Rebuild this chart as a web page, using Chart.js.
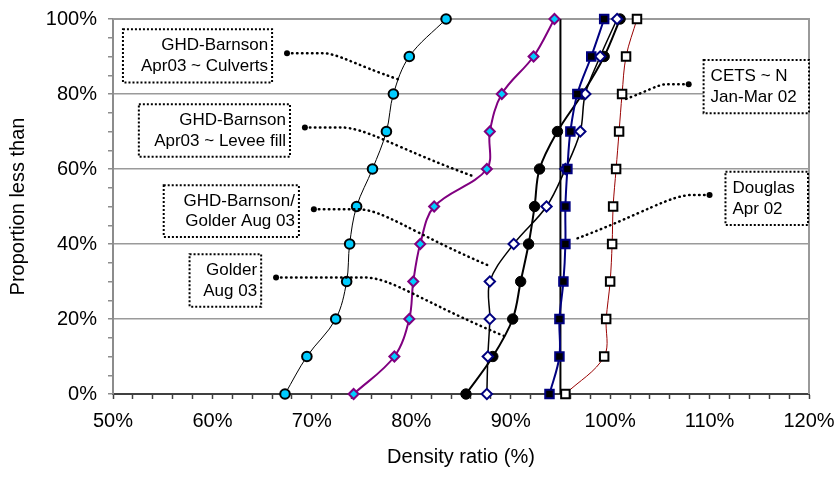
<!DOCTYPE html>
<html>
<head>
<meta charset="utf-8">
<title>Density ratio</title>
<script src="https://cdn.jsdelivr.net/npm/chart.js@4.4.1/dist/chart.umd.min.js"></script>
<style>
  html, body { margin: 0; padding: 0; background: #fff; }
  #wrap { width: 837px; height: 479px; }
</style>
</head>
<body>
<div id="wrap"><canvas id="densityChart" width="837" height="479"></canvas></div>
<script>
// Proportion less than (%) - same levels for every series
const proportion = [0, 10, 20, 30, 40, 50, 60, 70, 80, 90, 100];

// Density ratio (%) for each test set
const culverts = [67.3, 69.5, 72.4, 73.5, 73.8, 74.5, 76.1, 77.5, 78.2, 79.8, 83.5];
const leveeFill = [74.2, 78.3, 79.8, 80.2, 80.9, 82.3, 87.6, 87.9, 89.1, 92.3, 94.4];
const golderAug03 = [85.5, 88.2, 90.2, 91.0, 91.8, 92.4, 92.9, 94.7, 97.2, 99.4, 101.0];
const ghdGolderAug03 = [87.6, 87.7, 87.9, 87.9, 90.3, 93.6, 95.5, 97.0, 97.5, 99.0, 100.7];
const douglasApr02 = [93.9, 94.9, 94.9, 95.3, 95.5, 95.5, 95.7, 96.0, 96.7, 98.1, 99.4];
const cetsJanMar02 = [95.5, 99.4, 99.6, 100.0, 100.2, 100.3, 100.6, 100.9, 101.2, 101.6, 102.7];

// 95% specification line
const specLimit = 95;

// axis ranges and labelled ticks
const xRange = [50, 120];
const yRange = [0, 100];
const xLabelEvery = 10;
const yLabelEvery = 20;

// callout boxes: text, box corners and leader path, all in axis units
const callouts = [
  { text: ['GHD-Barnson', 'Apr03 ~ Culverts'], box: [51.0, 97.3, 66.0, 83.1], align: 'right',
    path: [[67.5, 90.9], [71.0, 90.9], [78.7, 83.9]] },
  { text: ['GHD-Barnson', 'Apr03 ~ Levee fill'], box: [52.6, 77.3, 67.8, 63.3], align: 'right',
    path: [[69.3, 71.1], [72.8, 71.1], [86.2, 58.1]] },
  { text: ['GHD-Barnson/', 'Golder Aug 03'], box: [55.1, 55.7, 68.7, 41.9], align: 'right',
    path: [[70.2, 49.3], [74.5, 49.3], [87.9, 34.1]] },
  { text: ['Golder', 'Aug 03'], box: [57.7, 37.3, 64.9, 23.3], align: 'right',
    path: [[66.4, 31.1], [75.2, 31.1], [89.3, 15.5]] },
  { text: ['CETS ~ N', 'Jan-Mar 02'], box: [109.4, 89.1, 120, 74.9], align: 'left',
    path: [[107.9, 82.6], [105.7, 82.6], [101.3, 78.4]] },
  { text: ['Douglas', 'Apr 02'], box: [111.6, 59.3, 119.9, 45.1], align: 'left',
    path: [[110.0, 53.1], [108.4, 53.1], [96.3, 41.1]] }
];

const FONT = '"Liberation Sans", Arial, sans-serif';

function series(values, style) {
  return Object.assign({
    data: values.map((v, i) => ({ x: v, y: proportion[i] })),
    showLine: true,
    tension: 0.35,
    clip: false
  }, style);
}

// grey frame on the top and right of the plot
const plotFrame = {
  id: 'plotFrame',
  beforeDatasetsDraw(chart) {
    const { ctx, chartArea: a } = chart;
    ctx.save();
    ctx.strokeStyle = '#9a9a9a';
    ctx.lineWidth = 2;
    ctx.beginPath();
    ctx.moveTo(a.left, a.top);
    ctx.lineTo(a.right, a.top);
    ctx.lineTo(a.right, a.bottom);
    ctx.stroke();
    ctx.restore();
  }
};

// dotted callout boxes with dotted leaders
const calloutPlugin = {
  id: 'callouts',
  afterDatasetsDraw(chart) {
    const { ctx } = chart;
    const sx = chart.scales.x, sy = chart.scales.y;
    const px = p => [sx.getPixelForValue(p[0]), sy.getPixelForValue(p[1])];
    ctx.save();
    callouts.forEach(c => {
      // leader
      const [d, k, e] = c.path.map(px);
      const dx = e[0] - k[0], dy = e[1] - k[1];
      ctx.setLineDash([0.5, 4.5]);
      ctx.lineCap = 'round';
      ctx.lineWidth = 2.5;
      ctx.strokeStyle = '#000';
      ctx.beginPath();
      ctx.moveTo(d[0], d[1]);
      ctx.lineTo(k[0], k[1]);
      ctx.bezierCurveTo(k[0] + dx * 0.2, k[1], k[0] + dx * 0.4, k[1] + dy * 0.4, e[0], e[1]);
      ctx.stroke();
      ctx.setLineDash([]);
      ctx.fillStyle = '#000';
      ctx.beginPath();
      ctx.arc(d[0], d[1], 3, 0, Math.PI * 2);
      ctx.fill();

      // box
      const [x1, y1] = px([c.box[0], c.box[1]]);
      const [x2, y2] = px([c.box[2], c.box[3]]);
      ctx.fillStyle = '#fff';
      ctx.fillRect(x1, y1, x2 - x1, y2 - y1);
      ctx.setLineDash([2, 2]);
      ctx.lineCap = 'butt';
      ctx.lineWidth = 2;
      ctx.strokeRect(x1, y1, x2 - x1, y2 - y1);
      ctx.setLineDash([]);

      // text
      ctx.fillStyle = '#000';
      ctx.font = '17px ' + FONT;
      ctx.textBaseline = 'middle';
      ctx.textAlign = c.align;
      const tx = c.align === 'right' ? x2 - 4 : x1 + 7;
      const h = y2 - y1;
      ctx.fillText(c.text[0], tx, y1 + h * 0.31);
      ctx.fillText(c.text[1], tx, y1 + h * 0.70);
    });
    ctx.restore();
  }
};

const ctx = document.getElementById('densityChart').getContext('2d');

new Chart(ctx, {
  type: 'scatter',
  data: {
    datasets: [
      series(douglasApr02, {
        label: 'Douglas Apr 02',
        borderColor: '#000080', borderWidth: 2,
        pointStyle: 'rect', pointRadius: 6,
        pointBackgroundColor: '#000', pointBorderColor: '#000080', pointBorderWidth: 2
      }),
      series(ghdGolderAug03, {
        label: 'GHD-Barnson/Golder Aug 03',
        borderColor: '#000', borderWidth: 1.5,
        pointStyle: 'rectRot', pointRadius: 5.2,
        pointBackgroundColor: '#fff', pointBorderColor: '#000080', pointBorderWidth: 2
      }),
      series(golderAug03, {
        label: 'Golder Aug 03',
        borderColor: '#000', borderWidth: 2,
        pointStyle: 'circle', pointRadius: 5.2,
        pointBackgroundColor: '#000', pointBorderColor: '#000', pointBorderWidth: 1
      }),
      series(cetsJanMar02, {
        label: 'CETS ~ N Jan-Mar 02',
        borderColor: '#990000', borderWidth: 1,
        pointStyle: 'rect', pointRadius: 6,
        pointBackgroundColor: '#fff', pointBorderColor: '#000', pointBorderWidth: 2
      }),
      series(leveeFill, {
        label: 'GHD-Barnson Apr03 ~ Levee fill',
        borderColor: '#800080', borderWidth: 2,
        pointStyle: 'rectRot', pointRadius: 5,
        pointBackgroundColor: '#00ccff', pointBorderColor: '#800080', pointBorderWidth: 2
      }),
      series(culverts, {
        label: 'GHD-Barnson Apr03 ~ Culverts',
        borderColor: '#000', borderWidth: 1,
        pointStyle: 'circle', pointRadius: 4.8,
        pointBackgroundColor: '#00ccff', pointBorderColor: '#000', pointBorderWidth: 2
      }),
      {
        label: 'Spec',
        data: [{ x: specLimit, y: yRange[0] }, { x: specLimit, y: yRange[1] }],
        showLine: true, tension: 0,
        borderColor: '#000', borderWidth: 2, pointRadius: 0
      }
    ]
  },
  options: {
    responsive: false,
    animation: false,
    events: [],
    layout: { padding: { top: 19, right: 28, left: 0, bottom: 0 } },
    plugins: {
      legend: { display: false },
      tooltip: { enabled: false }
    },
    scales: {
      x: {
        type: 'linear',
        min: xRange[0], max: xRange[1],
        afterFit: s => { s.height = 85; s.paddingLeft = 0; s.paddingRight = 0; },
        ticks: {
          stepSize: 2, autoSkip: false, maxTicksLimit: 100,
          maxRotation: 0, padding: 10,
          color: '#000', font: { family: FONT, size: 20 },
          callback: v => (Math.round(v) % xLabelEvery === 0 ? Math.round(v) + '%' : '')
        },
        grid: { drawOnChartArea: false, drawTicks: true, tickLength: 5, tickColor: '#404040', tickWidth: 1.5 },
        border: { color: '#404040', width: 2 },
        title: {
          display: true, text: 'Density ratio (%)', color: '#000',
          font: { family: FONT, size: 20 }, padding: { top: 0, bottom: 10 }
        }
      },
      y: {
        type: 'linear',
        min: yRange[0], max: yRange[1],
        afterFit: s => { s.width = 113; s.paddingTop = 0; s.paddingBottom = 0; },
        ticks: {
          stepSize: 5, autoSkip: false, maxTicksLimit: 100, padding: 11,
          color: '#000', font: { family: FONT, size: 20 },
          callback: v => (Math.round(v) % yLabelEvery === 0 ? Math.round(v) + '%' : '')
        },
        grid: {
          color: c => (c.tick && Math.round(c.tick.value) % yLabelEvery === 0 ? '#9a9a9a' : 'rgba(0,0,0,0)'),
          lineWidth: 1.5, tickLength: 5, tickColor: '#8c8c8c', tickWidth: 1.5
        },
        border: { color: '#8c8c8c', width: 2 },
        title: {
          display: true, text: 'Proportion less than', color: '#000',
          font: { family: FONT, size: 20 }, padding: { top: 6, bottom: 0 }
        }
      }
    }
  },
  plugins: [plotFrame, calloutPlugin]
});
</script>
</body>
</html>
